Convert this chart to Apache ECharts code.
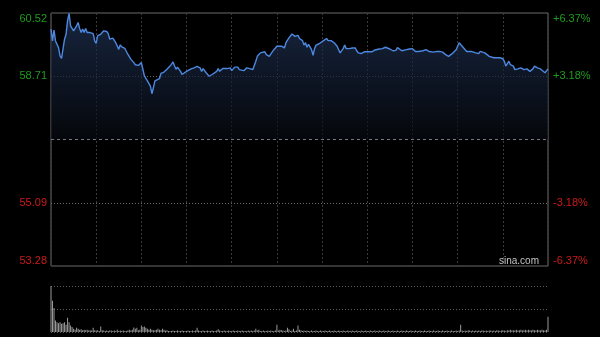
<!DOCTYPE html>
<html>
<head>
<meta charset="utf-8">
<script src="https://cdn.jsdelivr.net/npm/echarts@6/dist/echarts.min.js"></script>
<style>
html,body{margin:0;padding:0;background:#000;}
#c{width:600px;height:337px;}
</style>
</head>
<body>
<div id="c"></div>
<script>
// ---- data ----
const prevClose = 56.90;
const priceStep = 1.81;
const leftLabels = ['53.28', '55.09', '', '58.71', '60.52'];
const rightLabels = ['-6.37%', '-3.18%', '', '+3.18%', '+6.37%'];

// minutes since open (HK session, 330 minutes)
const times = [0,1,2,3,5,6,7,9,10,11,12,13,14,15,16,17,18,19,20,21,22,23,24,25,26,27,28,29,30,31,33,35,36,37,38,39,
40,41,42,43,44,45,46,47,49,50,51,53,54,55,56,58,59,60,61,62,63,64,65,66,67,68,69,70,72,73,75,77,78,80,81,82,83,84,85,86,87,88,
90,91,93,95,97,98,99,100,101,103,104,105,107,108,110,111,112,113,114,115,117,118,119,120,121,122,123,124,125,126,128,129,
130,132,134,135,136,137,139,140,142,143,145,146,147,148,149,150,151,153,154,155,156,158,160,161,162,164,165,167,168,169,
170,171,172,173,174,175,176,178,179,181,182,183,184,185,186,187,188,190,191,192,193,194,195,196,197,198,200,201,202,203,204,
206,207,208,209,211,212,213,215,216,218,220,222,223,225,227,228,229,230,231,233,234,236,237,238,240,242,243,244,245,247,248,249,
251,252,254,256,258,260,262,264,265,267,269,270,271,272,273,274,276,277,279,280,282,283,284,285,286,288,289,291,294,296,298,
300,301,302,303,304,305,307,308,309,310,312,314,316,318,320,321,323,325,326,328,330];
const prices = [60.06,59.72,60.03,59.72,59.53,59.29,59.22,59.77,59.91,60.30,60.51,60.15,60.08,60.01,59.99,60.15,60.25,60.08,59.96,60.06,59.96,60.08,59.96,59.99,59.96,59.99,59.93,59.72,59.65,59.87,59.91,60.01,60.03,59.99,59.93,59.77,
59.75,59.80,59.74,59.67,59.63,59.48,59.61,59.55,59.51,59.47,59.34,59.20,59.15,59.10,59.04,59.02,59.07,59.10,58.91,58.72,58.67,58.58,58.62,58.43,58.21,58.38,58.58,58.59,58.64,58.79,58.83,58.91,58.96,59.05,59.12,59.01,58.91,58.97,58.95,58.85,58.76,58.78,
58.85,58.88,58.92,58.95,58.99,58.98,58.95,58.85,58.93,58.81,58.76,58.71,58.76,58.81,58.85,58.93,58.85,58.90,58.93,58.90,58.93,58.90,58.95,58.87,58.92,58.97,58.93,58.97,58.90,58.85,58.87,58.90,
58.95,58.93,58.90,58.95,59.14,59.28,59.38,59.41,59.41,59.33,59.28,59.35,59.38,59.47,59.42,59.57,59.54,59.57,59.54,59.52,59.67,59.81,59.92,59.90,59.85,59.88,59.79,59.73,59.60,59.67,
59.54,59.62,59.67,59.47,59.31,59.50,59.60,59.64,59.69,59.73,59.76,59.79,59.73,59.69,59.73,59.71,59.67,59.57,59.47,59.38,59.42,59.50,59.60,59.50,59.52,59.50,59.52,59.50,59.52,59.44,59.38,
59.36,59.38,59.41,59.39,59.41,59.39,59.41,59.46,59.47,59.49,59.50,59.54,59.52,59.49,59.44,59.43,59.45,59.53,59.49,59.44,59.49,59.47,59.44,59.49,59.50,59.42,59.38,59.42,59.44,59.44,59.45,59.47,
59.42,59.43,59.40,59.42,59.42,59.40,59.33,59.28,59.33,59.38,59.47,59.57,59.67,59.62,59.57,59.52,59.42,59.38,59.42,59.40,59.38,59.42,59.36,59.42,59.40,59.38,59.33,59.28,59.24,59.24,59.24,
59.21,59.14,59.00,59.04,59.14,59.04,59.00,58.90,58.95,58.92,58.95,58.90,58.92,58.85,58.92,59.00,58.95,58.92,58.90,58.81,58.92];

// per-minute volume (relative units), minute 0..330
const volumes = [
100,68,52,25,21,19,21,18,19,21,
16,31,21,14,11,7,5,9,7,5,
6,4,5,4,5,3,4,3,9,4,
3,4,2,12,4,3,2,3,2,3,
3,2,3,2,5,2,3,2,3,2,
2,3,5,3,5,10,7,9,4,5,
14,11,12,9,7,5,7,5,4,4,
5,7,5,4,7,5,3,4,2,2,
2,3,2,2,3,2,2,3,2,2,
2,3,2,2,3,2,3,9,3,2,
2,3,2,2,3,2,2,3,2,2,
3,6,3,2,2,3,2,2,3,2,
2,3,2,2,3,2,2,3,2,2,
2,3,2,3,2,3,7,3,5,2,
2,3,2,2,3,2,3,2,2,3,
16,3,5,4,3,2,3,9,6,2,
3,7,2,3,14,5,4,2,3,2,
3,2,2,3,2,2,3,2,2,3,
2,2,3,2,2,3,2,2,3,2,
2,3,2,2,3,2,2,3,2,2,
3,2,2,3,2,2,3,2,2,3,
2,2,3,2,2,3,2,2,3,2,
2,3,2,2,3,2,2,3,2,2,
3,2,2,3,2,2,3,2,2,3,
2,2,3,2,2,3,2,2,3,2,
2,3,2,2,3,2,2,3,2,2,
3,2,2,3,2,2,3,2,2,3,
2,3,16,3,2,3,2,4,3,2,
3,2,3,2,3,2,3,3,2,3,
2,3,3,2,3,2,4,3,2,3,
4,3,2,4,3,5,3,4,3,5,
3,4,5,3,4,5,3,5,4,3,
5,4,3,5,4,3,5,4,3,5,
33];

// ---- chart ----
const green = '#1e9c1e', red = '#cc1a1a';
const font = 'Arial, "Liberation Sans", sans-serif';
const lineData = times.map((t, i) => [t, (prices[i] - prevClose) / priceStep]);
const volData = volumes.map((v, i) => [i, v]);
const labelColor = v => (Number(v) > 0 ? green : red);

const chart = echarts.init(document.getElementById('c'), null, {renderer: 'canvas'});
chart.setOption({
  animation: false,
  backgroundColor: '#000',
  grid: [
    {left: 51, right: 52, top: 13, bottom: 71, show: true, borderColor: '#6a6a6a', borderWidth: 1, backgroundColor: 'transparent'},
    {left: 51, right: 52, top: 286, bottom: 5}
  ],
  xAxis: [
    {type: 'value', gridIndex: 0, min: 0, max: 330, interval: 30,
     axisLine: {show: false}, axisTick: {show: false}, axisLabel: {show: false},
     splitLine: {show: true, lineStyle: {color: '#3c3c3c', type: [2, 2], width: 1}}},
    {type: 'value', gridIndex: 1, min: 0, max: 330,
     axisLine: {show: false}, axisTick: {show: false}, axisLabel: {show: false}, splitLine: {show: false}}
  ],
  yAxis: [
    {type: 'value', gridIndex: 0, position: 'left', min: -2, max: 2, interval: 1,
     axisLine: {show: false}, axisTick: {show: false},
     axisLabel: {show: true, margin: 4, fontSize: 11, fontFamily: font,
       color: labelColor,
       verticalAlignMinLabel: 'bottom', verticalAlignMaxLabel: 'top',
       formatter: v => leftLabels[Math.round(v) + 2]},
     splitLine: {show: true, lineStyle: {color: ['rgba(0,0,0,0)', '#6a6a6a', 'rgba(0,0,0,0)', '#6a6a6a', 'rgba(0,0,0,0)'], type: [1, 2], width: 1}}},
    {type: 'value', gridIndex: 0, position: 'right', min: -2, max: 2, interval: 1,
     axisLine: {show: false}, axisTick: {show: false},
     axisLabel: {show: true, margin: 5, fontSize: 11, fontFamily: font,
       color: labelColor,
       verticalAlignMinLabel: 'bottom', verticalAlignMaxLabel: 'top',
       formatter: v => rightLabels[Math.round(v) + 2]},
     splitLine: {show: false}},
    {type: 'value', gridIndex: 1, min: 0, max: 100, interval: 50,
     axisLine: {show: false}, axisTick: {show: false}, axisLabel: {show: false},
     splitLine: {show: true, lineStyle: {color: '#5a5a5a', type: [1, 2], width: 1}}}
  ],
  series: [
    {type: 'line', xAxisIndex: 0, yAxisIndex: 0, data: lineData, showSymbol: false, symbol: 'none',
     lineStyle: {color: '#4d88e0', width: 1.4},
     areaStyle: {color: new echarts.graphic.LinearGradient(0, 0, 0, 1, [
       {offset: 0, color: '#213559'}, {offset: 1, color: '#070a10'}])},
     markLine: {silent: true, symbol: 'none', label: {show: false},
       lineStyle: {color: '#6f7886', type: [3, 3], width: 1},
       data: [{yAxis: 0}]},
     z: 3},
    {type: 'bar', xAxisIndex: 1, yAxisIndex: 2, data: volData, barWidth: 1,
     itemStyle: {color: '#9a9a9a'}, large: false}
  ],
  graphic: [
    {type: 'text', left: 499, top: 256, z: 10,
     style: {text: 'sina.com', fill: '#c4c4c4', font: '10px ' + font}}
  ]
});
</script>
</body>
</html>
